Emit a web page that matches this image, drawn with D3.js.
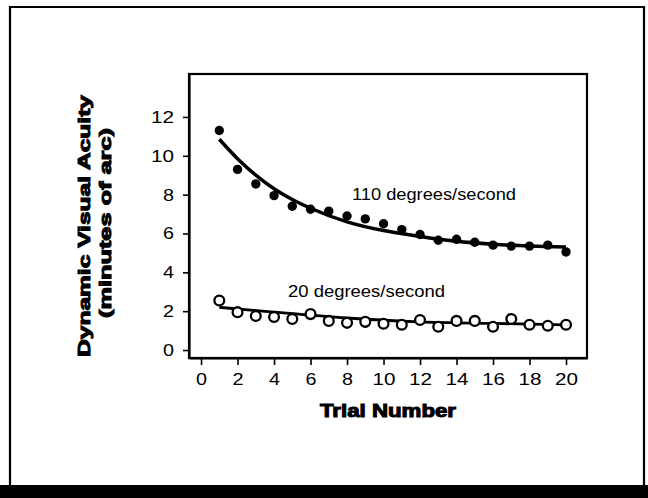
<!DOCTYPE html>
<html><head><meta charset="utf-8">
<script src="https://cdn.jsdelivr.net/npm/d3@7"></script>
<style>body{margin:0;background:#fff}svg{display:block}</style>
</head><body>
<script>
// Data
const trials = [1,2,3,4,5,6,7,8,9,10,11,12,13,14,15,16,17,18,19,20];
const fast110 = [11.3,9.3,8.55,7.95,7.4,7.25,7.15,6.9,6.75,6.5,6.2,5.95,5.65,5.7,5.55,5.4,5.35,5.35,5.4,5.05];
const slow20 = [2.55,1.95,1.75,1.7,1.6,1.85,1.5,1.4,1.45,1.35,1.3,1.55,1.2,1.5,1.5,1.2,1.6,1.3,1.25,1.3];
const fastFitX = [1,2,3,4,5,6,8,10,12,14,16,18,20];
const fastFitY = [10.85,9.85,9.0,8.3,7.75,7.3,6.6,6.15,5.85,5.6,5.45,5.35,5.3];
const slowFitX = [1,4,8,12,16,20];
const slowFitY = [2.2,1.95,1.65,1.45,1.37,1.3];
const xTicks = [0,2,4,6,8,10,12,14,16,18,20];
const yTicks = [0,2,4,6,8,10,12];
const labels = {fast:"110 degrees/second", slow:"20 degrees/second", x:"Trial Number", y1:"Dynamic Visual Acuity", y2:"(minutes of arc)"};

const W=648,H=498;
const svg=d3.select("body").append("svg").attr("width",W).attr("height",H);
svg.append("rect").attr("width",W).attr("height",H).attr("fill","#fff");

// outer frame
svg.append("path").attr("d","M10,486 V7 H644 V486").attr("fill","none").attr("stroke","#000").attr("stroke-width",2.2);
svg.append("rect").attr("x",0).attr("y",485).attr("width",W).attr("height",13).attr("fill","#000");

const L=189,R=587,T=74,B=358;
const x=d3.scaleLinear().domain([-0.66,21.15]).range([L,R]);
const y=d3.scaleLinear().domain([-0.41,14.21]).range([B,T]);

// plot box
svg.append("rect").attr("x",L).attr("y",T).attr("width",R-L).attr("height",B-T)
  .attr("fill","none").attr("stroke","#000").attr("stroke-width",2.2);

const font="'Liberation Sans', Arial, Helvetica, sans-serif";

// axes
const gx=svg.append("g").attr("transform",`translate(0,${B})`)
  .call(d3.axisBottom(x).tickValues(xTicks).tickSize(7).tickPadding(8).tickSizeOuter(0));
const gy=svg.append("g").attr("transform",`translate(${L},0)`)
  .call(d3.axisLeft(y).tickValues(yTicks).tickSize(6).tickPadding(9).tickSizeOuter(0));
[gx,gy].forEach(g=>{
  g.select(".domain").attr("stroke","#000").attr("stroke-width",2.2);
  g.selectAll(".tick line").attr("stroke","#000").attr("stroke-width",1.6);
  g.selectAll(".tick text").attr("fill","#000").attr("font-family",font).attr("font-size",17)
    .attr("lengthAdjust","spacingAndGlyphs")
    .attr("textLength",d=>String(d).length>1?23:11);
});
gx.selectAll(".tick text").attr("dy","0.71em");

// fit lines
const line=d3.line().x(d=>x(d[0])).y(d=>y(d[1])).curve(d3.curveMonotoneX);
svg.append("path").datum(fastFitX.map((v,i)=>[v,fastFitY[i]])).attr("d",line)
  .attr("fill","none").attr("stroke","#000").attr("stroke-width",3.5);
svg.append("path").datum(slowFitX.map((v,i)=>[v,slowFitY[i]])).attr("d",line)
  .attr("fill","none").attr("stroke","#000").attr("stroke-width",2.8);

// points
svg.append("g").selectAll("circle").data(trials).join("circle")
  .attr("cx",d=>x(d)).attr("cy",(d,i)=>y(fast110[i])).attr("r",4.7).attr("fill","#000");
svg.append("g").selectAll("circle").data(trials).join("circle")
  .attr("cx",d=>x(d)).attr("cy",(d,i)=>y(slow20[i])).attr("r",4.9)
  .attr("fill","#fff").attr("stroke","#000").attr("stroke-width",2.3);

// series labels
svg.append("text").attr("x",352).attr("y",200).attr("font-family",font).attr("font-size",16)
  .attr("textLength",164).attr("lengthAdjust","spacingAndGlyphs").text(labels.fast);
svg.append("text").attr("x",288).attr("y",297).attr("font-family",font).attr("font-size",16)
  .attr("textLength",157).attr("lengthAdjust","spacingAndGlyphs").text(labels.slow);

// axis titles
svg.append("text").attr("x",320).attr("y",417).attr("font-family",font).attr("font-size",18)
  .attr("font-weight","bold").attr("stroke","#000").attr("stroke-width",1)
  .attr("textLength",136).attr("lengthAdjust","spacingAndGlyphs").text(labels.x);
svg.append("text").attr("transform","translate(90,357) rotate(-90)").attr("font-family",font)
  .attr("font-size",17).attr("font-weight","bold").attr("stroke","#000").attr("stroke-width",1)
  .attr("textLength",262).attr("lengthAdjust","spacingAndGlyphs").text(labels.y1);
svg.append("text").attr("transform","translate(111,318) rotate(-90)").attr("font-family",font)
  .attr("font-size",17).attr("font-weight","bold").attr("stroke","#000").attr("stroke-width",1)
  .attr("textLength",190).attr("lengthAdjust","spacingAndGlyphs").text(labels.y2);
</script>
</body></html>
